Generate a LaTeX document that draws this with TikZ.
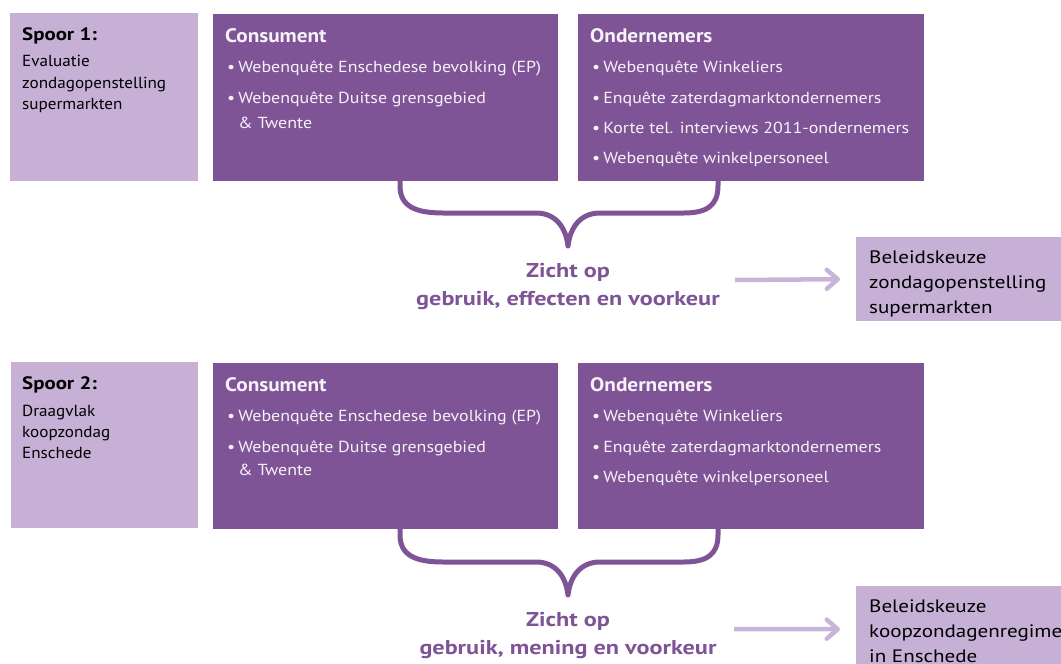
\documentclass[tikz,border=0pt]{standalone}
\usepackage{fontspec}
\setmainfont{PT Sans}
\newfontfamily\fbody[FakeStretch=1.12]{PT Sans}
\newfontfamily\fspb[FakeStretch=1.07]{PT Sans}
\newfontfamily\fbel[FakeStretch=1.17]{PT Sans}
\newfontfamily\fhdr[FakeStretch=1.09]{PT Sans}
\newfontfamily\fzi[FakeStretch=1.21]{PT Sans}
\newfontfamily\fsph[FakeStretch=1.16]{PT Sans}
\usetikzlibrary{arrows.meta}
\definecolor{dkp}{HTML}{7E5496}
\definecolor{ltp}{HTML}{C6B0D5}
\definecolor{arp}{HTML}{C9B4D9}
\definecolor{wtx}{HTML}{F6F2F8}
\tikzset{
  dkbox/.style={fill=dkp, draw=none, anchor=north west, inner sep=0pt},
  ltbox/.style={fill=ltp, draw=none, anchor=north west, inner sep=0pt},
  wbody/.style={anchor=base west, inner sep=0pt, text=wtx, font=\fbody\fontsize{16}{19}\selectfont},
  bbody/.style={anchor=base west, inner sep=0pt, text=black, font=\fspb\fontsize{16}{19}\selectfont},
  hdr/.style={anchor=base west, inner sep=0pt, text=wtx, font=\fhdr\fontsize{19.5}{23}\selectfont\bfseries},
  spoor/.style={anchor=base west, inner sep=0pt, text=black, font=\fsph\fontsize{18}{21}\selectfont\bfseries},
  beltxt/.style={anchor=base west, inner sep=0pt, text=black, font=\fbel\fontsize{18}{21}\selectfont},
  zicht/.style={anchor=base, inner sep=0pt, text=dkp, font=\fzi\fontsize{20}{24}\selectfont\bfseries},
  bracel/.style={draw=dkp, line width=5pt, line cap=round, line join=round},
  arr/.style={draw=arp, line width=4.5pt, -{Straight Barb[round, length=11pt, width=19pt]}},
}
\begin{document}
\begin{tikzpicture}[x=1pt,y=-1pt]
\useasboundingbox (0,0) rectangle (1061,664);
\clip (0,0) rectangle (1061,664);

% ---------- Spoor 1 ----------
\node[ltbox, minimum width=188pt, minimum height=168pt] (sp1) at (10,13) {};
\node[dkbox, minimum width=345pt, minimum height=167pt] (con1) at (213,14) {};
\node[dkbox, minimum width=346pt, minimum height=167pt] (ond1) at (578,14) {};
\node[ltbox, minimum width=205pt, minimum height=84pt] (bel1) at (856,237) {};

\node[spoor] (sp1h) at (22,40) {Spoor 1:};
\node[bbody] (sp1a) at (22,66.5) {Evaluatie};
\node[bbody] (sp1b) at (22,88) {zondagopenstelling};
\node[bbody] (sp1c) at (22,109) {supermarkten};

\node[hdr] (con1h) at (225,42) {Consument};
\node[wbody] (con1a) at (227,72) {•\hspace{3pt}Webenquête Enschedese bevolking (EP)};
\node[wbody] (con1b) at (227,103) {•\hspace{3pt}Webenquête Duitse grensgebied};
\node[wbody] (con1c) at (238,128) {\& Twente};

\node[hdr] (ond1h) at (590,42) {Ondernemers};
\node[wbody] (ond1a) at (592,72) {•\hspace{3pt}Webenquête Winkeliers};
\node[wbody] (ond1b) at (592,103) {•\hspace{3pt}Enquête zaterdagmarktondernemers};
\node[wbody] (ond1c) at (592,133) {•\hspace{3pt}Korte tel. interviews 2011-ondernemers};
\node[wbody] (ond1d) at (592,163) {•\hspace{3pt}Webenquête winkelpersoneel};

\draw[bracel] (400,176) -- (400,186) .. controls (400,206) and (415,213) .. (443,213)
  -- (536,213) .. controls (556,213) and (566,228) .. (568,246)
  .. controls (570,228) and (580,213) .. (600,213)
  -- (684,213) .. controls (706,213) and (718,206) .. (718,186) -- (718,176);

\node[zicht] (zi1a) at (568,277) {Zicht op};
\node[zicht] (zi1b) at (568,305) {gebruik, effecten en voorkeur};
\coordinate (a1s) at (735,280);
\draw[arr] (a1s) -- ([xshift=-16pt]bel1.west);

\node[beltxt] (bel1a) at (869,263) {Beleidskeuze};
\node[beltxt] (bel1b) at (869,288) {zondagopenstelling};
\node[beltxt] (bel1c) at (869,313) {supermarkten};

% ---------- Spoor 2 ----------
\node[ltbox, minimum width=187pt, minimum height=166pt] (sp2) at (11,362) {};
\node[dkbox, minimum width=345pt, minimum height=166pt] (con2) at (213,363) {};
\node[dkbox, minimum width=346pt, minimum height=166pt] (ond2) at (578,363) {};
\node[ltbox, minimum width=205pt, minimum height=86pt] (bel2) at (856,586) {};

\node[spoor] (sp2h) at (22,389) {Spoor 2:};
\node[bbody] (sp2a) at (22,416) {Draagvlak};
\node[bbody] (sp2b) at (22,437) {koopzondag};
\node[bbody] (sp2c) at (22,458) {Enschede};

\node[hdr] (con2h) at (225,391) {Consument};
\node[wbody] (con2a) at (227,421) {•\hspace{3pt}Webenquête Enschedese bevolking (EP)};
\node[wbody] (con2b) at (227,452) {•\hspace{3pt}Webenquête Duitse grensgebied};
\node[wbody] (con2c) at (238,475) {\& Twente};

\node[hdr] (ond2h) at (590,391) {Ondernemers};
\node[wbody] (ond2a) at (592,421) {•\hspace{3pt}Webenquête Winkeliers};
\node[wbody] (ond2b) at (592,452) {•\hspace{3pt}Enquête zaterdagmarktondernemers};
\node[wbody] (ond2c) at (592,482) {•\hspace{3pt}Webenquête winkelpersoneel};

\draw[bracel] (400,525) -- (400,535) .. controls (400,555) and (415,562) .. (443,562)
  -- (536,562) .. controls (556,562) and (566,577) .. (568,595)
  .. controls (570,577) and (580,562) .. (600,562)
  -- (684,562) .. controls (706,562) and (718,555) .. (718,535) -- (718,525);

\node[zicht] (zi2a) at (568,626) {Zicht op};
\node[zicht] (zi2b) at (568,654) {gebruik, mening en voorkeur};
\coordinate (a2s) at (734,629);
\draw[arr] (a2s) -- ([xshift=-16pt]bel2.west);

\node[beltxt] (bel2a) at (869,612) {Beleidskeuze};
\node[beltxt] (bel2b) at (869,637) {koopzondagenregime};
\node[beltxt] (bel2c) at (869,662) {in Enschede};
\end{tikzpicture}
\end{document}
